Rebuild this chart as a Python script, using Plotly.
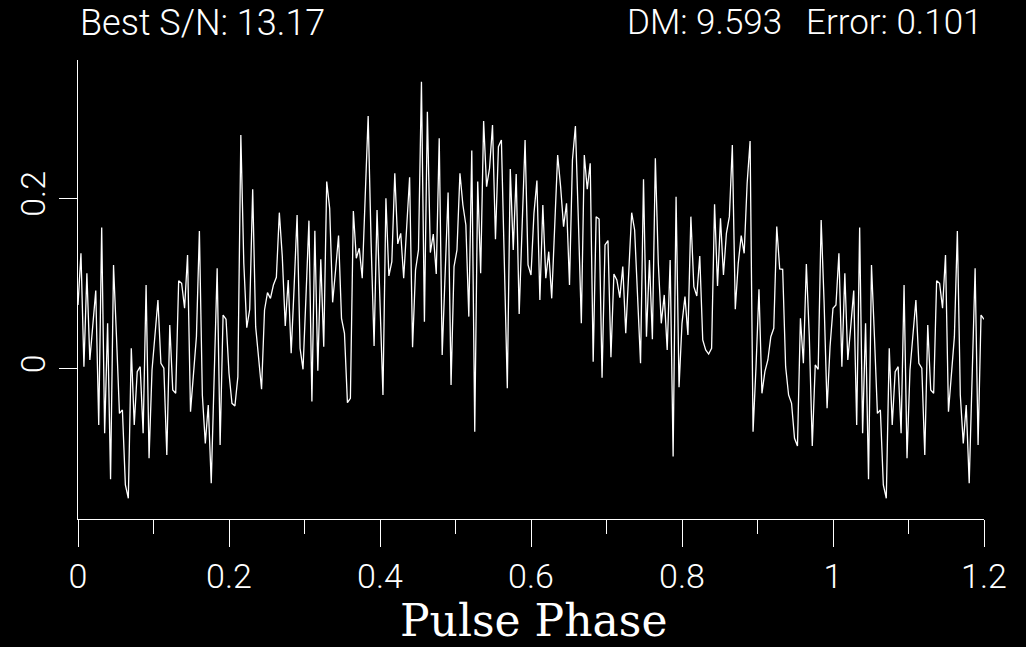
import numpy as np
import plotly.graph_objects as go

# Folded pulse profile (one full turn, 256 bins); the plot shows 1.2 turns
profile = [
    0.0753, 0.1361, 0.0027, 0.1125, 0.0106, 0.0498, 0.0922, -0.0659,
    0.1663, -0.0757, 0.0537, -0.1298, 0.1224, 0.0380, -0.0522, -0.0482,
    -0.1365, -0.1522, 0.0243, -0.0659, -0.0031, 0.0027, -0.0757, 0.0988,
    -0.1051, -0.0012, 0.0420, 0.0812, 0.0067, 0.0008, -0.1012, 0.0518,
    -0.0247, -0.0286, 0.1039, 0.1008, 0.0714, 0.1341, -0.0502, -0.0071,
    0.0380, 0.1624, -0.0306, -0.0875, -0.0424, -0.1345, -0.0012, 0.1184,
    -0.0894, 0.0635, 0.0584, -0.0051, -0.0404, -0.0435, -0.0090, 0.2753,
    0.1243, 0.0486, 0.0702, 0.2114, 0.0498, 0.0106, -0.0239, 0.0694,
    0.0898, 0.0831, 0.0988, 0.1078, 0.1839, 0.1322, 0.0506, 0.1047,
    0.0184, 0.0969, 0.1812, 0.0243, -0.0004, 0.0851, 0.1745, -0.0384,
    0.1627, -0.0020, 0.1290, 0.0263, 0.2204, 0.1890, 0.0784, 0.1165,
    0.1569, 0.0596, 0.0420, -0.0396, -0.0345, 0.1859, 0.1302, 0.1420,
    0.1067, 0.2027, 0.2976, 0.1478, 0.0271, 0.1871, 0.0773, -0.0306,
    0.2008, 0.1094, 0.1263, 0.2302, 0.1471, 0.1596, 0.1067, 0.1675,
    0.2255, 0.0255, 0.1165, 0.1400, 0.3380, 0.0557, 0.3027, 0.1369,
    0.1588, 0.1118, 0.2714, 0.0165, 0.1086, 0.2075, -0.0188, 0.1204,
    0.1400, 0.2302, 0.1929, 0.1694, 0.0616, 0.2569, -0.0737, 0.2204,
    0.1125, 0.2918, 0.2145, 0.2361, 0.2871, 0.1525, 0.2616, 0.2694,
    0.1243, -0.0227, 0.2353, 0.1400, 0.2294, 0.0647, 0.1675, 0.2694,
    0.1224, 0.1106, 0.1831, 0.2216, 0.0812, 0.1929, 0.1067, 0.1380,
    0.0831, 0.1675, 0.2518, 0.2145, 0.1675, 0.1949, 0.0988, 0.2459,
    0.2859, 0.1753, 0.0537, 0.2518, 0.2114, 0.2420, 0.0086, 0.1792,
    0.1765, -0.0102, 0.1459, 0.1510, 0.0137, 0.1118, 0.1047, 0.0839,
    0.1204, 0.0420, 0.1204, 0.1839, 0.1635, 0.0851, 0.0067, 0.2231,
    0.0380, 0.1282, 0.0349, 0.2478, 0.1243, 0.0537, 0.0871, 0.0224,
    0.1282, -0.1031, 0.2027, -0.0216, 0.0537, 0.0851, 0.0400, 0.1792,
    0.0969, 0.0859, 0.1329, 0.0341, 0.0224, 0.0176, 0.0243, 0.1937,
    0.0976, 0.1773, 0.1106, 0.1596, 0.1792, 0.2635, 0.0702, 0.1243,
    0.1569, 0.1361, 0.2184, 0.2682, -0.0737, 0.0027, 0.0937, -0.0286,
    -0.0031, 0.0106, 0.0380, 0.0478, 0.1675, 0.1176, 0.1173, 0.0027,
    -0.0306, -0.0404, -0.0816, -0.0906, 0.0596, 0.0067, 0.1235, 0.0380,
    -0.0906, 0.0047, -0.0004, 0.1753, 0.0773, -0.0463, 0.0263, 0.0714,
]
n_extra = 51  # bins repeated after phase 1
x_ticks = [0, 0.2, 0.4, 0.6, 0.8, 1.0, 1.2]
x_ticktext = ["0", "0.2", "0.4", "0.6", "0.8", "1", "1.2"]
y_ticks = [0, 0.2]
y_ticktext = ["0", "0.2"]

title_left = "Best S/N: 13.17"
title_dm = "DM: 9.593"
title_err = "Error: 0.101"
x_title = "Pulse Phase"

y_vals = profile + profile[:n_extra]
phase = np.linspace(0, 1.2, len(y_vals))

FG = "#ffffff"
SANS = "Roboto"

fig = go.Figure()
fig.add_trace(go.Scatter(x=phase, y=y_vals, mode="lines",
                         line=dict(color=FG, width=1.3), hoverinfo="skip"))

fig.update_layout(
    width=1026, height=647,
    paper_bgcolor="black", plot_bgcolor="black",
    margin=dict(l=78, r=42, t=60, b=128),
    showlegend=False,
    font=dict(family=SANS, color=FG, size=34, weight=300),
)
fig.update_xaxes(
    range=[0, 1.2], tickvals=x_ticks, ticktext=x_ticktext,
    ticks="outside", ticklen=27, tickwidth=1, tickcolor=FG,
    showline=True, linecolor=FG, linewidth=1, showgrid=False, zeroline=False,
    tickfont=dict(family=SANS, size=34, color=FG, weight=300),
    minor=dict(dtick=0.1, tick0=0, ticks="outside", ticklen=14, tickwidth=1, tickcolor=FG, showgrid=False),
)
fig.update_yaxes(
    range=[-0.1765, 0.3635], tickvals=y_ticks, ticktext=y_ticktext,
    ticks="outside", ticklen=18, tickwidth=1, tickcolor=FG, tickangle=-90,
    showline=True, linecolor=FG, linewidth=1, showgrid=False, zeroline=False,
    tickfont=dict(family=SANS, size=34, color=FG, weight=300),
)

fig.add_annotation(text=title_left, xref="paper", yref="paper", x=0, y=1.081,
                   xanchor="left", yanchor="middle", showarrow=False,
                   font=dict(family=SANS, size=36, color=FG, weight=300))
fig.add_annotation(text=title_dm, xref="paper", yref="paper", x=(625 - 78) / 906, y=1.081,
                   xanchor="left", yanchor="middle", showarrow=False,
                   font=dict(family=SANS, size=35, color=FG, weight=300))
fig.add_annotation(text=title_err, xref="paper", yref="paper", x=1.0, y=1.081,
                   xanchor="right", yanchor="middle", showarrow=False,
                   font=dict(family=SANS, size=35, color=FG, weight=300))
fig.add_annotation(text=x_title, xref="paper", yref="paper", x=(533 - 78) / 906, y=-0.222,
                   xanchor="center", yanchor="middle", showarrow=False,
                   font=dict(family="DejaVu Serif", size=44, color=FG, weight=300))

fig.write_html(
    "out.html",
    config={"displayModeBar": False},
    post_script="document.body.style.margin='0';document.body.style.background='black';",
)
